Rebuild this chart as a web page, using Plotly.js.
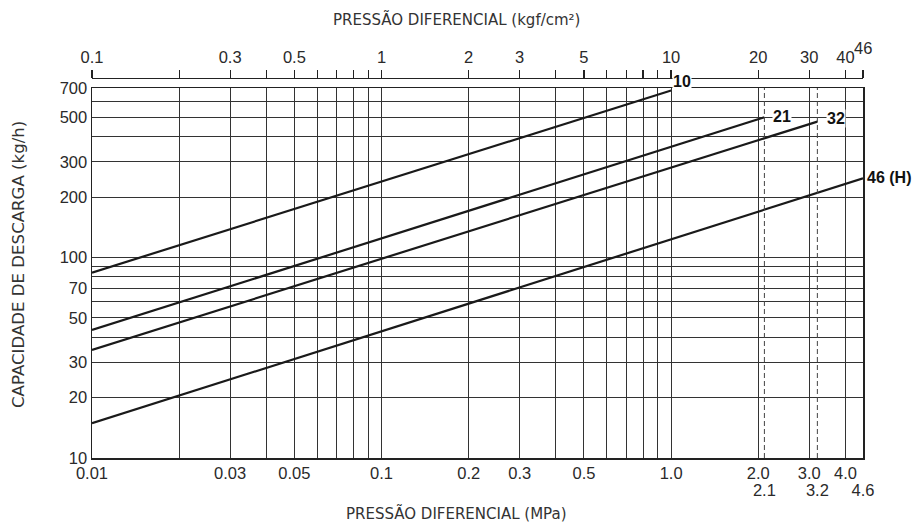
<!DOCTYPE html>
<html>
<head>
<meta charset="utf-8">
<script src="https://cdn.plot.ly/plotly-3.0.1.min.js"></script>
<style>html,body{margin:0;padding:0;background:#fff;}#chart{width:913px;height:526px;}</style>
</head>
<body>
<div id="chart"></div>
<script>
// ---- data ----
const seriesNames = ['10', '21', '32', '46 (H)'];
const seriesPressureMPa = [[0.01, 1.0], [0.01, 2.1], [0.01, 3.2], [0.01, 4.6]];
const seriesCapacity = [[84, 680], [43.5, 500], [34.6, 476], [14.9, 248]];

const limitPressureMPa = [2.1, 3.2];
const capacityRange = [10, 700];

const mpaTicks = [0.01, 0.02, 0.03, 0.04, 0.05, 0.06, 0.07, 0.08, 0.09,
                  0.1, 0.2, 0.3, 0.4, 0.5, 0.6, 0.7, 0.8, 0.9,
                  1, 2, 3, 4];
const mpaLabels = ['0.01', '', '0.03', '', '0.05', '', '', '', '',
                   '0.1', '0.2', '0.3', '', '0.5', '', '', '', '',
                   '1.0', '2.0', '3.0', '4.0'];
const mpaTicks2 = [2.1, 3.2, 4.6];
const mpaLabels2 = ['2.1', '3.2', '4.6'];

const kgfTicks = [0.1, 0.2, 0.3, 0.4, 0.5, 0.6, 0.7, 0.8, 0.9,
                  1, 2, 3, 4, 5, 6, 7, 8, 9,
                  10, 20, 30, 40, 46];
const kgfLabels = ['0.1', '', '0.3', '', '0.5', '', '', '', '',
                   '1', '2', '3', '', '5', '', '', '', '',
                   '10', '20', '30', '40', ''];
const kgfRaisedLabel = 46;

const capTicks = [10, 20, 30, 40, 50, 60, 70, 80, 90, 100, 200, 300, 400, 500, 600, 700];
const capLabels = ['10', '20', '30', '', '50', '', '70', '', '', '100', '200', '300', '', '500', '', '700'];

// ---- layout helpers ----
const W = 913, H = 526;
const mL = 89, mR = 50, mT = 78, mB = 68;
const plotW = W - mL - mR;            // 774
const plotH = H - mT - mB;            // 380
const mpaLeftPx = 92;                 // left edge of data area
const pxPerDecade = (plotW - (mpaLeftPx - mL)) / Math.log10(4.6 / 0.01);
const KGF_PER_MPA = 10.19716;
const kgfStartPx = mpaLeftPx + Math.log10(kgfTicks[0] / KGF_PER_MPA / 0.01) * pxPerDecade;
const kgfEndPx = mpaLeftPx + Math.log10(kgfTicks[kgfTicks.length - 1] / KGF_PER_MPA / 0.01) * pxPerDecade;

const ink = '#222';
const grid = '#333';
const tickFont = {family: 'Liberation Sans, Arial, sans-serif', size: 16.5, color: '#2a2a2a'};
const titleFont = {family: 'DejaVu Sans, sans-serif', size: 15, color: '#333'};
const yTitleFont = {family: 'DejaVu Sans, sans-serif', size: 16.6, color: '#333'};
const tagFont = {family: 'Liberation Sans, Arial, sans-serif', size: 16, color: '#111'};

const traces = [];
seriesNames.forEach((n, i) => {
  traces.push({
    type: 'scatter', mode: 'lines', name: n,
    x: seriesPressureMPa[i], y: seriesCapacity[i],
    line: {color: '#1a1a1a', width: 2.2},
    xaxis: 'x', yaxis: 'y', hoverinfo: 'skip', showlegend: false
  });
});
limitPressureMPa.forEach(p => {
  traces.push({
    type: 'scatter', mode: 'lines',
    x: [p, p], y: capacityRange,
    line: {color: '#444', width: 1, dash: '5px,3px'},
    xaxis: 'x', yaxis: 'y', hoverinfo: 'skip', showlegend: false
  });
});
// invisible traces to activate the extra axes
traces.push({type: 'scatter', mode: 'markers', x: [1], y: [100], xaxis: 'x2', yaxis: 'y',
  marker: {opacity: 0}, hoverinfo: 'skip', showlegend: false});
traces.push({type: 'scatter', mode: 'markers', x: [1], y: [100], xaxis: 'x3', yaxis: 'y',
  marker: {opacity: 0}, hoverinfo: 'skip', showlegend: false});

const annotations = [];
const tagShift = [[1, 9], [8, 1], [9, 3], [3, 1]];
seriesNames.forEach((n, i) => {
  annotations.push({
    x: Math.log10(seriesPressureMPa[i][1]), y: Math.log10(seriesCapacity[i][1]),
    xref: 'x', yref: 'y', text: '<b>' + n + '</b>', showarrow: false,
    xanchor: 'left', yanchor: 'middle', xshift: tagShift[i][0], yshift: tagShift[i][1],
    font: tagFont, bgcolor: '#fff', borderpad: 0
  });
});
annotations.push({
  x: Math.log10(kgfRaisedLabel), y: 1 + 30 / plotH, xref: 'x2', yref: 'paper',
  text: String(kgfRaisedLabel), showarrow: false, xanchor: 'center', yanchor: 'middle',
  font: tickFont
});
const pageMidX = (W / 2 - mL) / plotW;
annotations.push({
  x: pageMidX, y: (plotH + mT - 19) / plotH,
  xref: 'paper', yref: 'paper', text: 'PRESSÃO DIFERENCIAL (kgf/cm²)', showarrow: false,
  xanchor: 'center', yanchor: 'middle', font: titleFont
});
annotations.push({
  x: pageMidX, y: -(513 - (mT + plotH)) / plotH,
  xref: 'paper', yref: 'paper', text: 'PRESSÃO DIFERENCIAL (MPa)', showarrow: false,
  xanchor: 'center', yanchor: 'middle', font: titleFont
});
annotations.push({
  x: (18 - mL) / plotW, y: (mT + plotH - 265) / plotH,
  xref: 'paper', yref: 'paper', text: 'CAPACIDADE DE DESCARGA (kg/h)', showarrow: false,
  textangle: -90, xanchor: 'center', yanchor: 'middle', font: yTitleFont
});

const xDomain = [(mpaLeftPx - mL) / plotW, 1];
const layout = {
  width: W, height: H,
  margin: {l: mL, r: mR, t: mT, b: mB, pad: 0},
  paper_bgcolor: '#fff', plot_bgcolor: '#fff',
  showlegend: false,
  xaxis: {
    type: 'log', range: [Math.log10(0.01), Math.log10(4.6)], domain: xDomain,
    anchor: 'y', tickmode: 'array', tickvals: mpaTicks, ticktext: mpaLabels,
    showgrid: true, gridcolor: grid, gridwidth: 1,
    showline: true, linecolor: ink, linewidth: 1.5, mirror: true,
    ticks: '', tickfont: tickFont, zeroline: false, fixedrange: true
  },
  xaxis3: {
    type: 'log', range: [Math.log10(0.01), Math.log10(4.6)], domain: xDomain,
    overlaying: 'x', anchor: 'y', side: 'bottom',
    tickmode: 'array', tickvals: mpaTicks2, ticktext: mpaLabels2,
    showgrid: false, showline: false, ticks: '', ticklabelstandoff: 20,
    tickfont: tickFont, zeroline: false, fixedrange: true
  },
  xaxis2: {
    type: 'log',
    range: [Math.log10(kgfTicks[0]), Math.log10(kgfTicks[kgfTicks.length - 1])],
    domain: [(kgfStartPx - mL) / plotW, (kgfEndPx - mL) / plotW],
    overlaying: 'x', anchor: 'free', position: 1, side: 'top',
    tickmode: 'array', tickvals: kgfTicks, ticktext: kgfLabels,
    showgrid: false, showline: true, linecolor: ink, linewidth: 1.2,
    ticks: 'outside', ticklen: 8, tickwidth: 1.2, tickcolor: ink,
    tickfont: tickFont, zeroline: false, fixedrange: true
  },
  yaxis: {
    type: 'log', range: [Math.log10(capacityRange[0]), Math.log10(capacityRange[1])],
    domain: [0, (plotH - 10) / plotH], anchor: 'x',
    tickmode: 'array', tickvals: capTicks, ticktext: capLabels,
    showgrid: true, gridcolor: grid, gridwidth: 1,
    showline: true, linecolor: ink, linewidth: 1.5, mirror: true,
    ticks: '', tickfont: tickFont, zeroline: false, fixedrange: true
  },
  annotations: annotations
};

Plotly.newPlot('chart', traces, layout, {displayModeBar: false, staticPlot: true});
</script>
</body>
</html>
